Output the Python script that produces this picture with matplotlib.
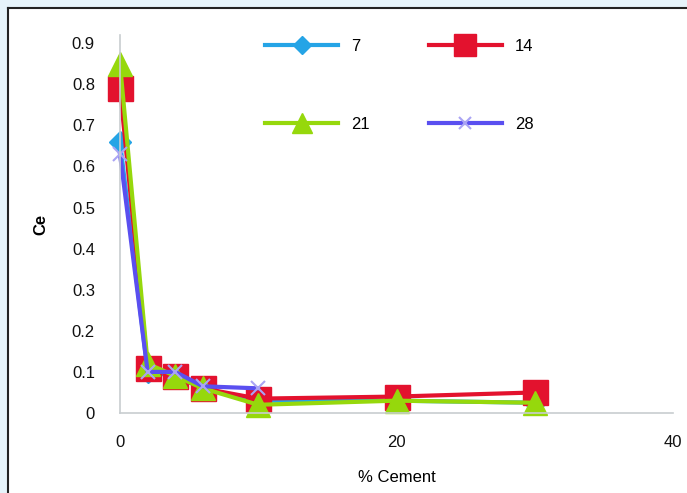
import matplotlib.pyplot as plt
from matplotlib.patches import Rectangle
from matplotlib.lines import Line2D

plt.rcParams['font.family'] = ['Liberation Sans', 'DejaVu Sans']

# % cement and Ce for each curing age (days)
cement = [0, 2, 4, 6, 10, 20, 30]
ce_7 = [0.66, 0.10, 0.09, 0.06, 0.03, 0.03, 0.025]
ce_14 = [0.79, 0.11, 0.09, 0.06, 0.035, 0.04, 0.05]
ce_21 = [0.85, 0.12, 0.09, 0.06, 0.02, 0.03, 0.025]
cement_28 = [0, 2, 4, 6, 10]
ce_28 = [0.63, 0.10, 0.10, 0.065, 0.06]

fig = plt.figure(figsize=(6.87, 4.93), dpi=100)
fig.patch.set_facecolor('#e6f3fa')

# white panel with dark edge on top / left
fig.add_artist(Rectangle((8/687, 0), 1, 1 - 8/493, transform=fig.transFigure,
                         facecolor='white', edgecolor='none', zorder=-5))
fig.add_artist(Line2D([7.5/687, 1], [1 - 7.5/493, 1 - 7.5/493], transform=fig.transFigure,
                      color='#222222', lw=1.5, zorder=-4))
fig.add_artist(Line2D([7.5/687, 7.5/687], [0, 1 - 7.5/493], transform=fig.transFigure,
                      color='#222222', lw=1.5, zorder=-4))

ax = fig.add_axes([120/687, 80/493, 553/687, 378/493])
ax.set_facecolor('none')

l7, = ax.plot(cement, ce_7, color='#25a4e6', lw=3, marker='D', ms=11, label='7', clip_on=False)
l14, = ax.plot(cement, ce_14, color='#e3122e', lw=3, marker='s', ms=18, label='14', clip_on=False)
l21, = ax.plot(cement, ce_21, color='#96d80c', lw=3, marker='^', ms=17, label='21', clip_on=False)
l28, = ax.plot(cement_28, ce_28, color='#5a4ff0', lw=3, marker='x', ms=10,
               mec='#aaa4f4', mew=1.5, label='28', clip_on=False)

ax.set_xlim(0, 40)
ax.set_ylim(0, 0.92)
ax.set_xticks([0, 20, 40])
ax.set_yticks([0, 0.1, 0.2, 0.3, 0.4, 0.5, 0.6, 0.7, 0.8, 0.9])
ax.set_yticklabels(['0', '0.1', '0.2', '0.3', '0.4', '0.5', '0.6', '0.7', '0.8', '0.9'])
ax.tick_params(length=0, labelsize=12, colors='#111111')
ax.tick_params(axis='y', pad=18)
ax.tick_params(axis='x', pad=16)
for s in ['top', 'right']:
    ax.spines[s].set_visible(False)
for s in ['left', 'bottom']:
    ax.spines[s].set_color('#c8cdd0')
    ax.spines[s].set_linewidth(1.2)

ax.set_xlabel('% Cement', fontsize=12, labelpad=14)
ax.set_ylabel('Ce', fontsize=12, fontweight='bold', labelpad=17)

ax.legend([l7, l21, l14, l28], ['7', '21', '14', '28'], ncol=2, loc='upper left',
          bbox_to_anchor=(0.235, 1.03), frameon=False, fontsize=12,
          handlelength=4.4, labelspacing=3.8, columnspacing=3.5, markerscale=0.85)

plt.savefig('out.png', dpi=100, facecolor=fig.get_facecolor())
